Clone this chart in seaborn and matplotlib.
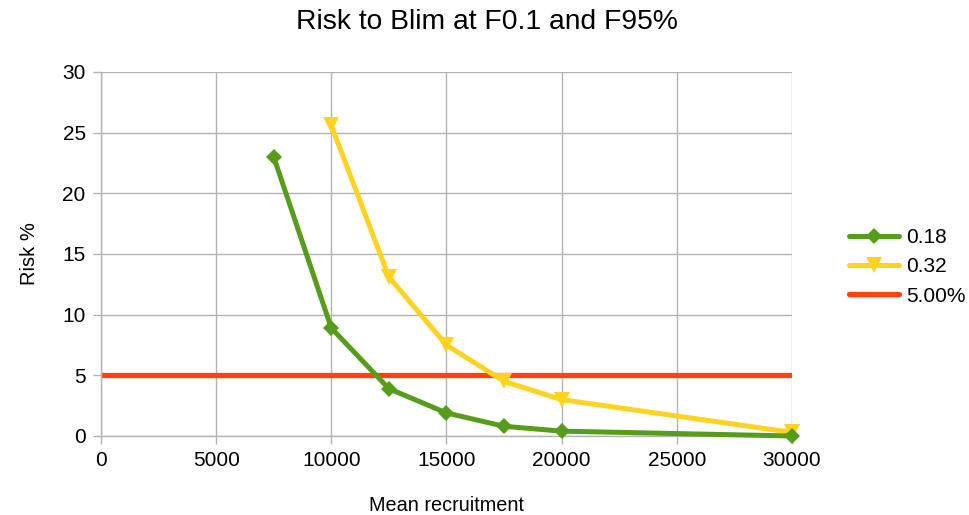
import matplotlib
matplotlib.use("Agg")
import matplotlib.pyplot as plt
import seaborn as sns
import pandas as pd

recruitment = [7500, 10000, 12500, 15000, 17500, 20000, 30000]
risk_018 = [23.0, 8.9, 3.9, 1.9, 0.8, 0.4, 0.0]
recruitment_032 = [10000, 12500, 15000, 17500, 20000, 30000]
risk_032 = [25.6, 13.1, 7.5, 4.5, 3.0, 0.3]
ref_x = [0, 30000]
ref_y = [5.0, 5.0]

sns.set_theme(style="white")
plt.rcParams['font.family'] = ['Liberation Sans', 'DejaVu Sans']
plt.rcParams['text.color'] = 'black'
plt.rcParams['axes.labelcolor'] = 'black'

fig = plt.figure(figsize=(9.69, 5.15), dpi=100)
ax = fig.add_axes([0.1042, 0.1534, 0.7131, 0.7068])

df1 = pd.DataFrame({"x": recruitment, "y": risk_018})
df2 = pd.DataFrame({"x": recruitment_032, "y": risk_032})
df3 = pd.DataFrame({"x": ref_x, "y": ref_y})

sns.lineplot(data=df1, x="x", y="y", ax=ax, color="#579d1c", lw=3.6,
             marker="D", markersize=8, markeredgewidth=0, label="0.18", zorder=4,
             clip_on=False)
sns.lineplot(data=df2, x="x", y="y", ax=ax, color="#ffd320", lw=3.6,
             marker="v", markersize=12, markeredgewidth=0, label="0.32", zorder=3,
             clip_on=False)
sns.lineplot(data=df3, x="x", y="y", ax=ax, color="#ff420e", lw=3.8,
             label="5.00%", zorder=2)

ax.set_xlim(0, 30000)
ax.set_ylim(0, 30)
ax.set_xticks(range(0, 30001, 5000))
ax.set_yticks(range(0, 31, 5))
ax.grid(True, color="#b3b3b3", lw=1)
ax.set_axisbelow(True)
for s in ["top", "right"]:
    ax.spines[s].set_visible(False)
for s in ["left", "bottom"]:
    ax.spines[s].set_color("#b3b3b3")
    ax.spines[s].set_linewidth(1)
ax.tick_params(axis="both", which="both", length=6, color="#b3b3b3", width=1,
               labelsize=15, labelcolor="black", direction="out", bottom=True, left=True)
ax.tick_params(axis="x", pad=4.5)
ax.tick_params(axis="y", pad=5)
ax.set_xlabel("Mean recruitment", fontsize=14.3, labelpad=19, color="black")
ax.set_ylabel("Risk %", fontsize=14.5, labelpad=17, color="black")
fig.text(0.502, 1 - 22 / 515, "Risk to Blim at F0.1 and F95%", fontsize=20.3,
         ha="center", va="center", color="black")

leg = ax.legend(loc="center left", bbox_to_anchor=(1.056, 0.465), frameon=False,
                fontsize=15, handlelength=2.4, labelspacing=0.5, handletextpad=0.33)
for t in leg.get_texts():
    t.set_color("black")

fig.savefig("out.png", dpi=100)
